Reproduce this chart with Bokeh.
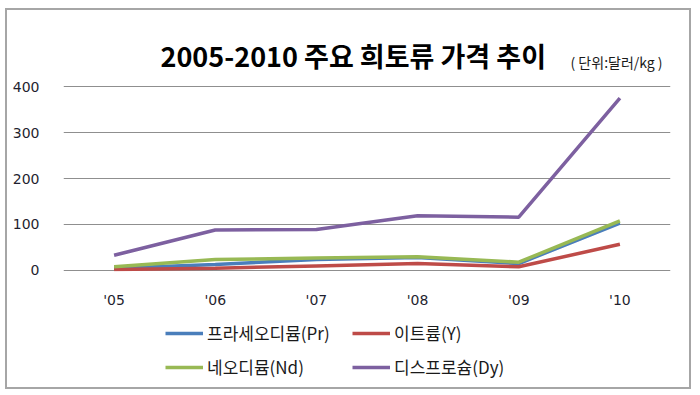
from bokeh.plotting import figure
from bokeh.models import Legend, LegendItem, Label, Range1d
from bokeh.layouts import column
from bokeh.embed import file_html
from bokeh.resources import INLINE

years = ["'05", "'06", "'07", "'08", "'09", "'10"]
pr = [5, 13, 24, 28, 15, 103]
y_ = [2, 5, 10, 15, 8, 57]
nd = [8, 24, 27, 30, 18, 108]
dy = [33, 88, 89, 119, 116, 375]
names = ["프라세오디뮴(Pr)", "이트륨(Y)", "네오디뮴(Nd)", "디스프로슘(Dy)"]
colors = ["#4A7EBB", "#BE4B48", "#98B954", "#7D60A0"]
yticks = [0, 100, 200, 300, 400]
title_text = "2005-2010 주요 희토류 가격 추이"
unit_text = "( 단위:달러/kg )"

KR = "Noto Sans CJK KR"
W = 682
series = [pr, y_, nd, dy]


def blank(fig):
    fig.grid.grid_line_color = None
    fig.outline_line_color = None
    fig.border_fill_color = "white"
    fig.background_fill_color = "white"
    fig.frame_align = False


# header with title
h = figure(width=W, height=70, x_range=Range1d(0, 1), y_range=Range1d(0, 1),
           x_axis_type=None, y_axis_type=None,
           output_backend="svg", toolbar_location=None,
           min_border_left=0, min_border_right=0, min_border_top=0, min_border_bottom=0)
blank(h)
h.add_layout(Label(x=153, y=25, x_units="screen", y_units="screen",
                   text=title_text, text_font=KR, text_font_size="27px",
                   text_font_style="bold", text_baseline="middle", text_color="#000000"))
h.add_layout(Label(x=563, y=19, x_units="screen", y_units="screen",
                   text=unit_text, text_font=KR, text_font_size="14px",
                   text_baseline="middle", text_color="#1a1a1a"))

# main chart
p = figure(width=W, height=230, x_range=years, y_range=(-2.2, 402.2),
           output_backend="svg", toolbar_location=None,
           min_border_left=56, min_border_right=19,
           min_border_top=5, min_border_bottom=37)
p.outline_line_color = None
p.background_fill_color = "white"
p.border_fill_color = "white"
p.xgrid.grid_line_color = None
p.ygrid.grid_line_color = "#8f8f8f"
p.ygrid.grid_line_width = 1
p.yaxis.ticker = yticks
for ax in (p.xaxis, p.yaxis):
    ax.axis_line_color = None
    ax.major_tick_line_color = None
    ax.minor_tick_line_color = None
    ax.major_label_text_font = "DejaVu Sans"
    ax.major_label_text_font_size = "14px"
    ax.major_label_text_color = "#1f1f2f"
p.yaxis.major_label_standoff = 18
p.xaxis.major_label_standoff = 14

for vals, c in zip(series, colors):
    p.line(years, vals, line_color=c, line_width=3.5)

# legend panel: same series, drawn in a view range that hides them
lg = figure(width=W, height=77, x_range=years, y_range=Range1d(-1000, -999),
            x_axis_type=None, y_axis_type=None,
            output_backend="svg", toolbar_location=None,
            min_border_left=0, min_border_right=0, min_border_top=0, min_border_bottom=0)
blank(lg)
rs = [lg.line(years, vals, line_color=c, line_width=3.5) for vals, c in zip(series, colors)]
order = [0, 2, 1, 3]  # legend fills column by column
items = [LegendItem(label=names[i], renderers=[rs[i]]) for i in order]
legend = Legend(items=items, ncols=2, location=(158, 8),
                label_text_font=KR, label_text_font_size="17px",
                label_text_color="#1a1a1a",
                glyph_width=38, glyph_height=20, label_height=20, label_width=136,
                label_standoff=4, spacing=9, padding=0, margin=0,
                border_line_color=None, background_fill_alpha=0)
lg.add_layout(legend, "center")

layout = column(h, p, lg, spacing=0)
layout.styles = {"border": "2px solid #a6a6a6", "margin-left": "5px", "margin-top": "8px",
                 "background-color": "white"}

open("out.html", "w").write(file_html(layout, INLINE))
